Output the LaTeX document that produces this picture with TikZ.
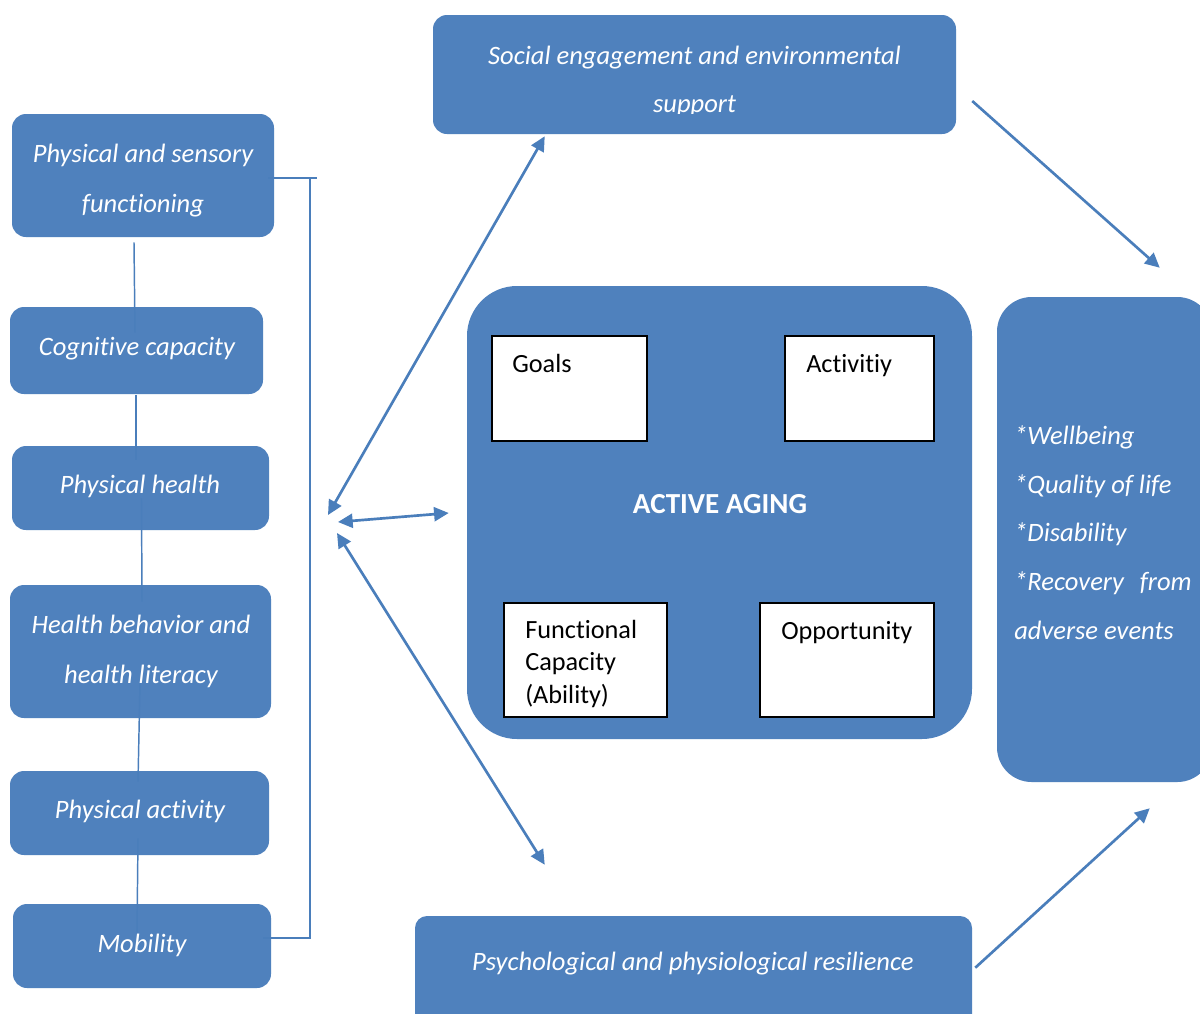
\documentclass[tikz,border=0pt]{standalone}
\usepackage{fontspec}
\setmainfont{Carlito}[Ligatures=NoCommon]
\usetikzlibrary{arrows.meta,fit}
\definecolor{boxblue}{HTML}{4F81BD}
\definecolor{lineblue}{HTML}{4A7EBB}
\begin{document}
\begin{tikzpicture}[x=0.75pt,y=-0.75pt,
  bluebox/.style={draw=none, fill=boxblue, inner sep=0pt, rounded corners=10.5pt},
  whitebox/.style={draw=black, line width=0.9pt, fill=white, inner sep=0pt},
  itx/.style={text=white, font=\fontsize{19.9}{37}\selectfont\itshape, inner sep=0pt, anchor=base, align=center},
  blk/.style={text=black, font=\fontsize{19.7}{24.2}\selectfont, inner sep=0pt, anchor=base west, align=left},
  link/.style={draw=lineblue, line width=1.1pt},
  bracket/.style={draw=lineblue, line width=1.5pt},
  arr/.style={draw=lineblue, line width=2pt, -{Triangle[length=11pt,width=10.5pt]}},
  dbl/.style={draw=lineblue, line width=2pt, {Triangle[length=11pt,width=10.5pt]}-{Triangle[length=11pt,width=10.5pt]}}
]
\path[use as bounding box, fill=white] (0,0) rectangle (1200,1014);

% left column of factors
\node[bluebox, fit={(12,114) (274,237)}] (b1) {};
\node[bluebox, fit={(10,307) (263,394)}] (b2) {};
\node[bluebox, fit={(12,446) (269,530)}] (b3) {};
\node[bluebox, fit={(10,585) (271,718)}] (b4) {};
\node[bluebox, fit={(10,771) (269,855)}] (b5) {};
\node[bluebox, fit={(13,904) (271,988)}] (b6) {};

% multi-line texts are placed at the baseline of their last line
\node[itx] (t1) at (143,212) {Physical and sensory\\functioning};
\node[itx] (t2) at (137,355) {Cognitive capacity};
\node[itx] (t3) at (140,493) {Physical health};
\node[itx] (t4) at (141,683) {Health behavior and\\health literacy};
\node[itx] (t5) at (140,818) {Physical activity};
\node[itx] (t6) at (142,952) {Mobility};

% links between the factors
\draw[link] ([shift={(-9,5)}]b1.south) -- ([shift={(-1.5,26)}]b2.north);
\draw[link] ([shift={(-0.5,1)}]b2.south) -- ([shift={(-4.5,14)}]b3.north);
\draw[link] ([shift={(1,-32)}]b3.south) -- ([shift={(1.5,17)}]b4.north);
\draw[link] ([shift={(-0.5,-35)}]b4.south) -- ([shift={(-1.5,11)}]b5.north);
\draw[link] ([shift={(-1.5,-17)}]b5.south) -- ([shift={(-5,29)}]b6.north);

% bracket grouping the column
\draw[bracket] ([shift={(-6,2.5)}]b1.east) -- ++(49,0);
\draw[bracket] ([shift={(36,2.5)}]b1.east) |- ([shift={(-8,-8)}]b6.east);

% top and bottom boxes
\node[bluebox, fit={(433,15) (956,134)}] (soc) {};
\begin{scope}
  \clip (433,15) rectangle (956,113);
  \node[itx, font=\fontsize{19.9}{36}\selectfont\itshape] (tsoc) at (694.5,112) {Social engagement and environmental\\support};
\end{scope}
\node[bluebox, rounded corners=9pt, fit={(415,916) (972,1030)}] (psy) {};
\node[itx] (tpsy) at (693,970) {Psychological and physiological resilience};

% central box
\node[bluebox, rounded corners=37.5pt, fit={(467,286) (972,739)}] (core) {};
\node[whitebox, fit={(492,336) (647,441)}] (goals) {};
\node[whitebox, fit={(785,336) (934,441)}] (act) {};
\node[whitebox, fit={(504,603) (667,717)}] (func) {};
\node[whitebox, fit={(760,603) (934,717)}] (opp) {};
\node[blk] (tgoals) at (512,372) {Goals};
\node[blk] (tact) at (806,372) {Activitiy};
\node[blk] (tfunc) at (525,703) {Functional\\Capacity\\(Ability)};
\node[blk] (topp) at (781,639) {Opportunity};
\node[text=white, font=\fontsize{21.8}{26}\selectfont\bfseries, inner sep=0pt, anchor=base] (taa) at (720,513) {ACTIVE AGING};

% outcomes box
\node[bluebox, rounded corners=26pt, fit={(997,297) (1212,782)}] (out) {};
\node[itx, anchor=base west, align=left, font=\fontsize{19.9}{36.4}\selectfont\itshape] (tout) at (1014,639)
  {*Wellbeing\\*Quality of life\\*Disability\\\makebox[133pt][s]{*Recovery\hfill from}\\adverse events};

% arrows
\coordinate (h1) at (328,515);
\coordinate (h2) at (338,522);
\coordinate (h3) at (337,533);
\draw[dbl] (h1) -- ([shift={(112,2)}]soc.south west);
\draw[dbl] (h2) -- ([shift={(-18,0.5)}]core.west);
\draw[dbl] (h3) -- ([shift={(130,-51)}]psy.north west);
\draw[arr] ([shift={(16,26.5)}]soc.east) -- ([shift={(163,-29)}]out.north west);
\draw[arr] ([shift={(3,52)}]psy.north east) -- ([shift={(153,26)}]out.south west);
\end{tikzpicture}
\end{document}
